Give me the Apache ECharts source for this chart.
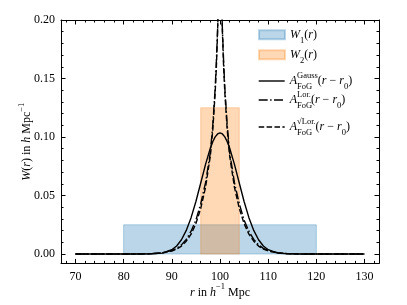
<!DOCTYPE html>
<html><head><meta charset="utf-8">
<script src="https://cdn.jsdelivr.net/npm/echarts@6/dist/echarts.min.js"></script>
<style>html,body{margin:0;padding:0;background:#fff}#c{width:407px;height:305px}</style>
</head><body><div id="c"></div>
<script>
// ---- data ----
const rValues = [70,80,84,86,88,90,91,92,93,94,95,96,97,98,98.5,99,99.25,99.5,99.75,100,100.25,100.5,100.75,101,101.5,102,103,104,105,106,107,108,109,110,112,114,116,120,130];
const gaussValues = [0,0,0,0.0002,0.0008,0.0037,0.0069,0.0122,0.0202,0.0311,0.0449,0.0607,0.0766,0.0906,0.0960,0.1001,0.1016,0.1026,0.1034,0.1035,0.1034,0.1026,0.1016,0.1001,0.0960,0.0906,0.0766,0.0607,0.0449,0.0311,0.0202,0.0122,0.0069,0.0037,0.0008,0.0002,0,0,0];
const lorValues = [0,0,0.0001,0.0004,0.0011,0.003,0.0048,0.0078,0.0125,0.0195,0.029,0.043,0.061,0.087,0.11,0.142,0.165,0.192,0.222,0.25,0.222,0.192,0.165,0.142,0.11,0.087,0.061,0.043,0.029,0.0195,0.0125,0.0078,0.0048,0.003,0.0011,0.0004,0.0001,0,0];
const sqrtLorValues = [0,0,0.0001,0.0003,0.0009,0.0026,0.0042,0.0068,0.011,0.017,0.026,0.039,0.057,0.084,0.106,0.138,0.16,0.19,0.235,0.5,0.235,0.19,0.16,0.138,0.106,0.084,0.057,0.039,0.026,0.017,0.011,0.0068,0.0042,0.0026,0.0009,0.0003,0.0001,0,0];
const w1Box = [80, 120, 0.025];   // [r start, r end, height]
const w2Box = [96, 104, 0.125];
const xMajorTicks = [70,80,90,100,110,120,130];
const xMinorTicks = [68,72,74,76,78,82,84,86,88,92,94,96,98,102,104,106,108,112,114,116,118,122,124,126,128,132];
const yMajorTicks = [0,0.05,0.1,0.15,0.2];
const yMinorTicks = [0.01,0.02,0.03,0.04,0.06,0.07,0.08,0.09,0.11,0.12,0.13,0.14,0.16,0.17,0.18,0.19];

// ---- styling ----
const FONT = 'Liberation Serif';
const rich = {
  n:   {fontFamily: FONT, fontSize: 12, color: '#000', lineHeight: 20, verticalAlign: 'middle'},
  i:   {fontFamily: FONT, fontSize: 12, color: '#000', lineHeight: 20, verticalAlign: 'middle', fontStyle: 'italic'},
  sup: {fontFamily: FONT, fontSize: 8.5, color: '#000', lineHeight: 10, verticalAlign: 'top'},
  subz:{fontFamily: FONT, fontSize: 8.5, color: '#000', lineHeight: 10, verticalAlign: 'bottom', width: 0},
  s0:  {fontFamily: FONT, fontSize: 8.5, color: '#000', lineHeight: 14, verticalAlign: 'bottom'}
};
const BLUE = 'rgba(31,119,180,0.3)';
const ORANGE = 'rgba(255,127,14,0.3)';
const AX = {color: '#000', width: 1};
const lim = {x: [67, 133], y: [-0.008, 0.2]};
const DASHDOT = [9, 2.4, 1.5, 2.4];
const DASHED = [5.5, 2.4];

function xAx(pos, ticks, len, line, extra) {
  return Object.assign({type: 'value', min: lim.x[0], max: lim.x[1], position: pos,
    axisLine: {show: line, onZero: false, lineStyle: AX},
    axisTick: {show: true, inside: true, length: len, customValues: ticks, lineStyle: AX},
    axisLabel: {show: false}, splitLine: {show: false}}, extra || {});
}
function yAx(pos, ticks, len, line, extra) {
  return Object.assign({type: 'value', min: lim.y[0], max: lim.y[1], position: pos,
    axisLine: {show: line, onZero: false, lineStyle: AX},
    axisTick: {show: true, inside: true, length: len, customValues: ticks, lineStyle: AX},
    axisLabel: {show: false}, splitLine: {show: false}}, extra || {});
}
function boxSeries(name, box, color) {
  return {type: 'custom', name: name, xAxisIndex: 0, yAxisIndex: 0, data: [box],
    itemStyle: {color: color, borderColor: color, borderWidth: 1},
    renderItem: function (params, api) {
      const p0 = api.coord([api.value(0), api.value(2)]);
      const p1 = api.coord([api.value(1), 0]);
      return {type: 'rect', shape: {x: p0[0], y: p0[1], width: p1[0] - p0[0], height: p1[1] - p0[1]},
        style: {fill: color, stroke: color, lineWidth: 1}};
    }};
}
function lineSeries(name, vals, type) {
  return {type: 'line', name: name, xAxisIndex: 0, yAxisIndex: 0, symbol: 'none', clip: true,
    data: rValues.map((r, k) => [r, vals[k]]),
    lineStyle: {color: '#000', width: 1.4, type: type}, itemStyle: {color: '#000'}};
}
const legendLabels = {
  W1: '{i|W}{s0|1}{n|(}{i|r}{n|)}',
  W2: '{i|W}{s0|2}{n|(}{i|r}{n|)}',
  Gauss: '{i|A}{subz|FoG}{sup|Gauss}{n|(}{i|r}{n| − }{i|r}{s0|0}{n|)}',
  Lor: '{i|A}{subz|FoG}{sup|Lor.}{n|(}{i|r}{n| − }{i|r}{s0|0}{n|)}',
  sqrtLor: '{i|A}{subz|FoG}{sup|√Lor.}{n|(}{i|r}{n| − }{i|r}{s0|0}{n|)}'
};
function leg(name, centerY, dash) {
  const l = {data: [name], left: 258, top: centerY - 10, padding: 0, itemWidth: 26,
    itemHeight: dash ? 12 : 9, selectedMode: false,
    formatter: n => legendLabels[n], textStyle: {rich: rich}};
  if (!dash) l.icon = 'rect';
  else {
    l.itemStyle = {opacity: 0, color: 'rgba(0,0,0,0)', borderWidth: 0};
    l.lineStyle = {color: '#000', width: 1.4, type: dash, opacity: 1};
  }
  return l;
}

const chart = echarts.init(document.getElementById('c'), null, {renderer: 'canvas'});
chart.setOption({
  animation: false,
  backgroundColor: '#fff',
  grid: {left: 61, top: 20, width: 318, height: 243.4},
  xAxis: [
    xAx('bottom', xMajorTicks, 4.5, true, {
      axisLabel: {show: true, customValues: xMajorTicks, margin: 7, color: '#000', fontFamily: FONT, fontSize: 12},
      name: '{i|r}{n| in }{i|h}{sup|−1}{n| Mpc}', nameLocation: 'middle', nameGap: 19, nameMoveOverlap: false,
      nameTextStyle: {rich: rich}}),
    xAx('bottom', xMinorTicks, 2.5, false),
    xAx('top', xMajorTicks, 4.5, true),
    xAx('top', xMinorTicks, 2.5, false)
  ],
  yAxis: [
    yAx('left', yMajorTicks, 4.5, true, {
      axisLabel: {show: true, customValues: yMajorTicks, margin: 6, color: '#000', fontFamily: FONT, fontSize: 12,
        formatter: v => v.toFixed(2)},
      name: '{i|W}{n|(}{i|r}{n|) in }{i|h}{n| Mpc}{sup|−1}', nameLocation: 'middle', nameGap: 24, nameMoveOverlap: false,
      nameTextStyle: {rich: rich}}),
    yAx('left', yMinorTicks, 2.5, false),
    yAx('right', yMajorTicks, 4.5, true),
    yAx('right', yMinorTicks, 2.5, false)
  ],
  legend: [
    leg('W1', 38.8, null),
    leg('W2', 58.8, null),
    leg('Gauss', 81, 'solid'),
    leg('Lor', 100, DASHDOT),
    leg('sqrtLor', 127, DASHED)
  ],
  series: [
    boxSeries('W1', w1Box, BLUE),
    boxSeries('W2', w2Box, ORANGE),
    lineSeries('Gauss', gaussValues, 'solid'),
    lineSeries('Lor', lorValues, DASHDOT),
    lineSeries('sqrtLor', sqrtLorValues, DASHED)
  ]
});
</script>
</body></html>
